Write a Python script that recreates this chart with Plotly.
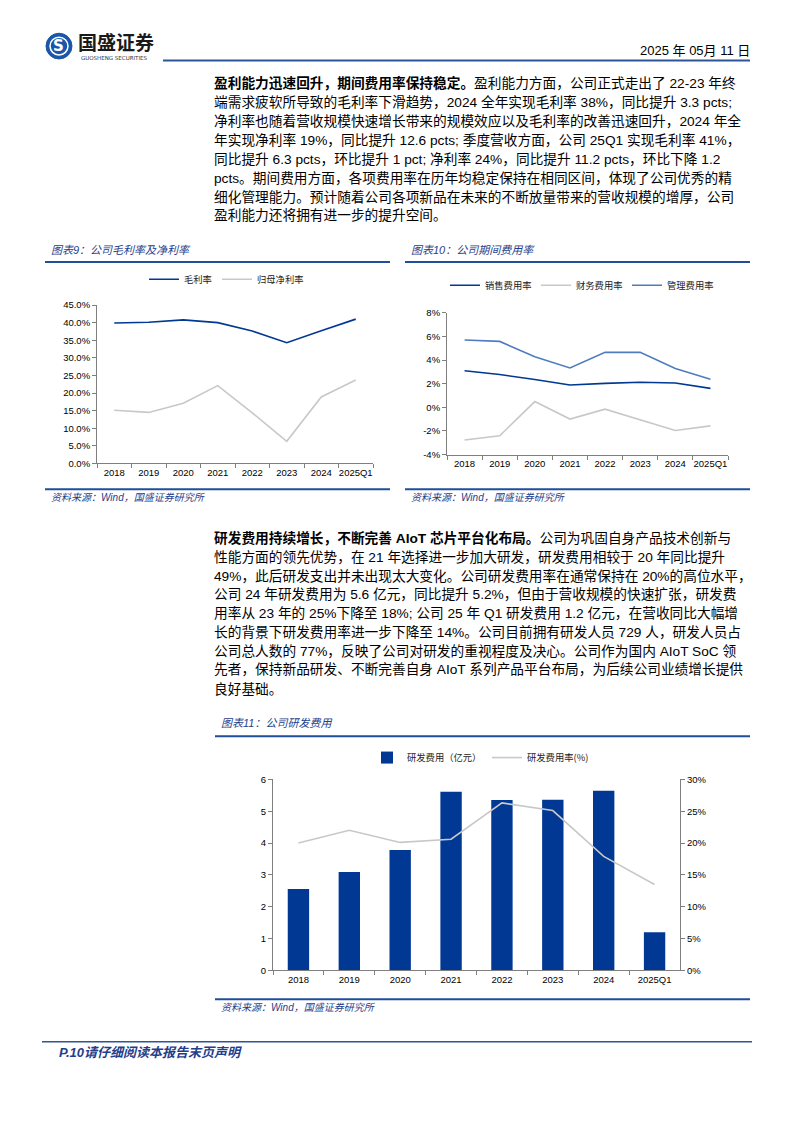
import plotly.graph_objects as go

W, H = 794, 1123
def px(x): return x / W
def py(y): return 1 - y / H

# ---------------- data ----------------
years = ["2018", "2019", "2020", "2021", "2022", "2023", "2024", "2025Q1"]
gross_margin = [39.9, 40.1, 40.8, 40.0, 37.6, 34.3, 37.7, 41.0]
net_margin = [15.1, 14.5, 17.1, 22.1, 14.4, 6.3, 18.9, 23.7]
selling_rate = [3.10, 2.78, 2.36, 1.89, 2.03, 2.13, 2.06, 1.61]
finance_rate = [-2.77, -2.41, 0.49, -0.99, -0.15, -1.07, -1.96, -1.57]
admin_rate = [5.71, 5.59, 4.29, 3.34, 4.66, 4.66, 3.29, 2.39]
rd_expense = [2.56, 3.09, 3.78, 5.61, 5.35, 5.36, 5.64, 1.20]
rd_rate = [20.0, 22.0, 20.1, 20.6, 26.3, 25.1, 17.9, 13.5]

pct1_vals = [0, 5, 10, 15, 20, 25, 30, 35, 40, 45]
pct1_text = ["0.0%", "5.0%", "10.0%", "15.0%", "20.0%", "25.0%", "30.0%", "35.0%", "40.0%", "45.0%"]
pct2_vals = [-4, -2, 0, 2, 4, 6, 8]
pct2_text = ["-4%", "-2%", "0%", "2%", "4%", "6%", "8%"]
pct3_vals = [0, 5, 10, 15, 20, 25, 30]
pct3_text = ["0%", "5%", "10%", "15%", "20%", "25%", "30%"]

para1 = [
    "<b>盈利能力迅速回升，期间费用率保持稳定。</b>盈利能力方面，公司正式走出了 22-23 年终",
    "端需求疲软所导致的毛利率下滑趋势，2024 全年实现毛利率 38%，同比提升 3.3 pcts;",
    "净利率也随着营收规模快速增长带来的规模效应以及毛利率的改善迅速回升，2024 年全",
    "年实现净利率 19%，同比提升 12.6 pcts; 季度营收方面，公司 25Q1 实现毛利率 41%，",
    "同比提升 6.3 pcts，环比提升 1 pct; 净利率 24%，同比提升 11.2 pcts，环比下降 1.2",
    "pcts。期间费用方面，各项费用率在历年均稳定保持在相同区间，体现了公司优秀的精",
    "细化管理能力。预计随着公司各项新品在未来的不断放量带来的营收规模的增厚，公司",
    "盈利能力还将拥有进一步的提升空间。",
]
para2 = [
    "<b>研发费用持续增长，不断完善 AIoT 芯片平台化布局。</b>公司为巩固自身产品技术创新与",
    "性能方面的领先优势，在 21 年选择进一步加大研发，研发费用相较于 20 年同比提升",
    "49%，此后研发支出并未出现太大变化。公司研发费用率在通常保持在 20%的高位水平，",
    "公司 24 年研发费用为 5.6 亿元，同比提升 5.2%，但由于营收规模的快速扩张，研发费",
    "用率从 23 年的 25%下降至 18%; 公司 25 年 Q1 研发费用 1.2 亿元，在营收同比大幅增",
    "长的背景下研发费用率进一步下降至 14%。公司目前拥有研发人员 729 人，研发人员占",
    "公司总人数的 77%，反映了公司对研发的重视程度及决心。公司作为国内 AIoT SoC 领",
    "先者，保持新品研发、不断完善自身 AIoT 系列产品平台布局，为后续公司业绩增长提供",
    "良好基础。",
]

# ---------------- styles ----------------
DARK = "#003893"
GRAY = "#C8C8C8"
LIGHT = "#4F7CC0"
TITLEBLUE = "#1F3E8C"
LINEBLUE = "#1F4E9A"
CJK = "Noto Sans CJK SC"
BODY = "Liberation Sans, Noto Sans CJK SC"
TICKFONT = dict(family="Liberation Sans", size=9.5, color="#000000")
LEGFONT = dict(family=CJK, size=9.3, color="#222222")

fig = go.Figure()

# Chart 9
fig.add_trace(go.Scatter(x=years, y=gross_margin, mode="lines", name="毛利率", legendwidth=28,
                         line=dict(color=DARK, width=1.6), xaxis="x", yaxis="y", legend="legend"))
fig.add_trace(go.Scatter(x=years, y=net_margin, mode="lines", name="归母净利率", legendwidth=50,
                         line=dict(color=GRAY, width=1.6), xaxis="x", yaxis="y", legend="legend"))
# Chart 10
fig.add_trace(go.Scatter(x=years, y=selling_rate, mode="lines", name="销售费用率", legendwidth=46,
                         line=dict(color=DARK, width=1.6), xaxis="x2", yaxis="y2", legend="legend2"))
fig.add_trace(go.Scatter(x=years, y=finance_rate, mode="lines", name="财务费用率", legendwidth=46,
                         line=dict(color=GRAY, width=1.6), xaxis="x2", yaxis="y2", legend="legend2"))
fig.add_trace(go.Scatter(x=years, y=admin_rate, mode="lines", name="管理费用率", legendwidth=46,
                         line=dict(color=LIGHT, width=1.6), xaxis="x2", yaxis="y2", legend="legend2"))
# Chart 11
fig.add_trace(go.Bar(x=years, y=rd_expense, name="研发费用（亿元）", legendwidth=75,
                     marker=dict(color=DARK, line=dict(width=0)),
                     width=0.42, xaxis="x3", yaxis="y3", legend="legend3"))
fig.add_trace(go.Scatter(x=years, y=rd_rate, mode="lines", name="研发费用率(%)", legendwidth=70,
                         line=dict(color=GRAY, width=1.6), xaxis="x3", yaxis="y4", legend="legend3"))

axis_common = dict(showgrid=False, zeroline=False, showline=True, linecolor="#7F7F7F", linewidth=1,
                   ticks="outside", tickcolor="#7F7F7F", ticklen=4, tickfont=TICKFONT, fixedrange=True)
xcat = dict(type="category", range=[-0.5, 7.5], tickson="boundaries", tickangle=0)

fig.update_layout(
    width=W, height=H, autosize=False,
    margin=dict(l=0, r=0, t=0, b=0),
    paper_bgcolor="white", plot_bgcolor="white",
    showlegend=True,
    xaxis=dict(axis_common, **xcat, domain=[px(97), px(373)], anchor="y"),
    yaxis=dict(axis_common, domain=[py(462), py(302)], anchor="x", range=[0, 45],
               tickvals=pct1_vals, ticktext=pct1_text),
    xaxis2=dict(axis_common, **xcat, domain=[px(447), px(728)], anchor="y2"),
    yaxis2=dict(axis_common, domain=[py(453), py(310)], anchor="x2", range=[-4, 8],
                tickvals=pct2_vals, ticktext=pct2_text),
    xaxis3=dict(axis_common, **xcat, domain=[px(273), px(680)], anchor="y3"),
    yaxis3=dict(axis_common, domain=[py(974), py(781)], anchor="x3", range=[0, 6], dtick=1),
    yaxis4=dict(axis_common, domain=[py(974), py(781)], anchor="x3", overlaying="y3", side="right",
                range=[0, 30], tickvals=pct3_vals, ticktext=pct3_text),
    legend=dict(orientation="h", x=px(144), y=py(276), xanchor="left", yanchor="middle",
                entrywidthmode="pixels", bgcolor="rgba(0,0,0,0)", font=LEGFONT),
    legend2=dict(orientation="h", x=px(445), y=py(282), xanchor="left", yanchor="middle",
                 entrywidthmode="pixels", bgcolor="rgba(0,0,0,0)", font=LEGFONT),
    legend3=dict(orientation="h", x=px(367), y=py(759), xanchor="left", yanchor="middle",
                 entrywidthmode="pixels", bgcolor="rgba(0,0,0,0)", font=LEGFONT),
)

shapes = []
def hline(x0, x1, y, color=LINEBLUE, width=2):
    shapes.append(dict(type="line", xref="paper", yref="paper", x0=px(x0), x1=px(x1),
                       y0=py(y), y1=py(y), line=dict(color=color, width=width)))

hline(163, 750, 55, "#2E5597", 2)         # header rule
hline(45, 390, 258.5)                     # chart 9 top
hline(405, 750, 258.5)                    # chart 10 top
hline(45, 390, 488)                       # chart 9 bottom
hline(405, 750, 488)                      # chart 10 bottom
hline(215, 750, 737.5)                    # chart 11 top
hline(215, 750, 1003)                     # chart 11 bottom
hline(42, 752, 1046, "#2E5597", 1.5)      # footer rule

# logo
shapes.append(dict(type="circle", xref="paper", yref="paper",
                   x0=px(46), x1=px(72), y0=py(53.5), y1=py(27.5),
                   fillcolor="#1B56A8", line=dict(color="#1B56A8", width=1)))
shapes.append(dict(type="circle", xref="paper", yref="paper",
                   x0=px(50), x1=px(68), y0=py(49.5), y1=py(31.5),
                   fillcolor="rgba(0,0,0,0)", line=dict(color="white", width=1.5)))

annotations = []
def text(x, y, s, size=13.7, color="#000000", family=BODY, xanchor="left", **kw):
    annotations.append(dict(xref="paper", yref="paper", x=px(x), y=py(y), text=s, showarrow=False,
                            xanchor=xanchor, yanchor="middle",
                            font=dict(family=family, size=size, color=color), **kw))

# header
text(59, 40.5, "<b>S</b>", size=15, color="white", family="DejaVu Sans", xanchor="center")
text(76, 36, "<b>国盛证券</b>", size=19, color="#1a1a1a", family=CJK)
text(79, 53, "GUOSHENG SECURITIES", size=5.5, color="#333333", family="DejaVu Sans")
text(752, 45, "2025 年 05月 11 日", size=13, color="#000000", family=BODY, xanchor="right")

# paragraphs
for i, line in enumerate(para1):
    text(212, 78 + i * 19.15, line)
for i, line in enumerate(para2):
    text(212, 537.5 + i * 19.0, line)

# chart titles and sources
text(49, 246, "<i>图表9：公司毛利率及净利率</i>", size=11, color=TITLEBLUE, family=BODY)
text(409, 246, "<i>图表10：公司期间费用率</i>", size=11, color=TITLEBLUE, family=BODY)
text(219, 724, "<i>图表11：公司研发费用</i>", size=11, color=TITLEBLUE, family=BODY)
text(49, 496, "<i>资料来源：Wind，国盛证券研究所</i>", size=10, color=TITLEBLUE, family=BODY)
text(409, 496, "<i>资料来源：Wind，国盛证券研究所</i>", size=10, color=TITLEBLUE, family=BODY)
text(219, 1011, "<i>资料来源：Wind，国盛证券研究所</i>", size=10, color=TITLEBLUE, family=BODY)

# footer
text(57, 1057, "<b><i>P.10请仔细阅读本报告末页声明</i></b>", size=13, color="#1F3E8C", family=BODY)

fig.update_layout(shapes=shapes, annotations=annotations)
fig.write_html("out.html", config={"displayModeBar": False},
               post_script="document.body.style.margin='0';")
